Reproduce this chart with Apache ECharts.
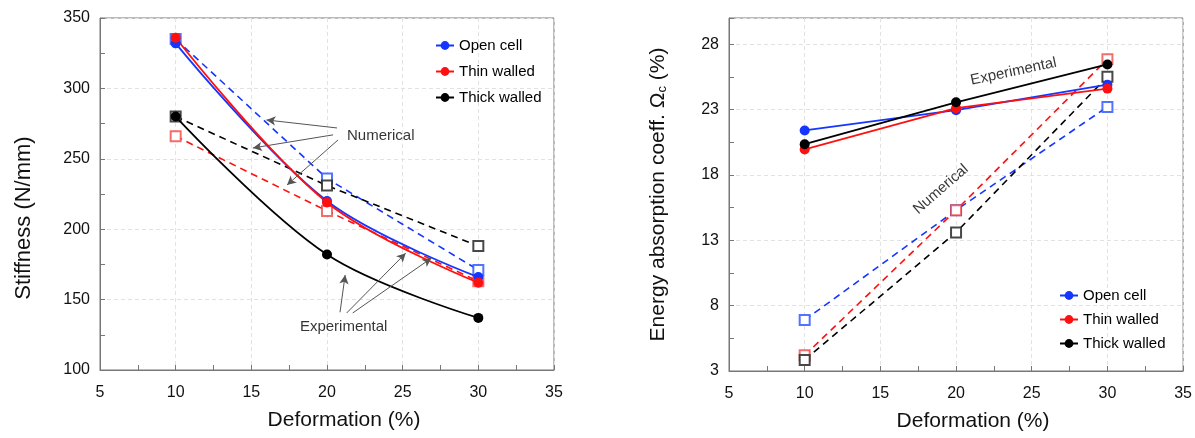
<!DOCTYPE html>
<html>
<head>
<meta charset="utf-8">
<script src="https://cdn.jsdelivr.net/npm/echarts@6/dist/echarts.min.js"></script>
<style>html,body{margin:0;padding:0;background:#fff}#c{width:1195px;height:438px}</style>
</head>
<body>
<div id="c"></div>
<script>
// ---- data ----
const deformation = [10, 20, 30];
const seriesNames = ['Open cell', 'Thin walled', 'Thick walled'];
// Stiffness (N/mm)
const stiffExpOpen = [332, 220, 166];
const stiffExpThin = [336, 219, 162];
const stiffExpThick = [280, 182, 137];
const stiffNumOpen = [335, 236, 171];
const stiffNumThin = [266, 213, 163];
const stiffNumThick = [280, 231, 188];
// Energy absorption coeff (%)
const energyExpOpen = [21.4, 22.95, 24.9];
const energyExpThin = [19.95, 23.1, 24.6];
const energyExpThick = [20.35, 23.55, 26.45];
const energyNumOpen = [6.9, 15.3, 23.2];
const energyNumThin = [4.2, 15.3, 26.85];
const energyNumThick = [3.85, 13.6, 25.5];
// axis ticks
const xTicks = {min: 5, max: 35, interval: 5};
const stiffTicks = {min: 100, max: 350, interval: 50};
const energyTicks = {min: 3, max: 30, interval: 5};
// annotations (data units)
const leftNumArrows = [[[20.66, 271.9], [16.0, 277.6]], [[20.4, 267.0], [15.1, 257.7]], [[20.73, 263.4], [17.36, 231.4]]];
const leftExpArrows = [[[20.86, 141], [21.2, 167.5]], [[21.3, 140.5], [25.2, 183]], [[21.7, 140.5], [26.9, 179.5]]];
const leftNumLabel = [23.55, 266];
const leftExpLabel = [21.1, 130.5];
const rightExpLabel = [23.8, 25.9];
const rightNumLabel = [19.0, 16.9];

const colors = ['#1436ff', '#ff1010', '#000000'];
const numColors = ['rgba(40,80,255,0.8)', 'rgba(240,60,60,0.75)', 'rgba(40,40,40,0.85)'];
const FONT = 'Liberation Sans, Arial, sans-serif';

function pairs(ys) { return deformation.map((x, i) => [x, ys[i]]); }

function expSeries(name, ys, idx, c, smooth) {
  return {
    name: name, type: 'line', xAxisIndex: idx, yAxisIndex: idx,
    data: pairs(ys), smooth: smooth, symbol: 'circle', symbolSize: 10,
    lineStyle: {color: c, width: 1.8}, itemStyle: {color: c}, z: 4
  };
}
function numSeries(name, ys, idx, c, lc) {
  return {
    name: name + ' (num)', type: 'line', xAxisIndex: idx, yAxisIndex: idx,
    data: pairs(ys), symbol: 'emptyRect', symbolSize: 10,
    lineStyle: {color: lc, width: 1.6, type: [7, 5]},
    itemStyle: {color: c, borderWidth: 1}, z: 3
  };
}
function arrowSeries(idx, arrows) {
  return {
    type: 'line', xAxisIndex: idx, yAxisIndex: idx, data: [], silent: true,
    markLine: {
      silent: true, symbol: ['none', 'arrow'], symbolSize: [7, 9],
      lineStyle: {color: '#555', width: 1, type: 'solid'},
      label: {show: false},
      data: arrows.map(a => [{coord: a[0]}, {coord: a[1]}])
    }
  };
}
function textSeries(idx, pos, text, rot) {
  return {
    type: 'scatter', xAxisIndex: idx, yAxisIndex: idx, data: [pos], symbolSize: 0, silent: true,
    label: {show: true, position: 'inside', formatter: text, rotate: rot, color: '#000', fontSize: 15, fontFamily: FONT}
  };
}

function xAxis(idx) {
  return {
    type: 'value', gridIndex: idx, min: xTicks.min, max: xTicks.max, interval: xTicks.interval,
    name: 'Deformation (%)', nameLocation: 'middle', nameGap: 40,
    nameTextStyle: {fontSize: 21, color: '#111', fontFamily: FONT, padding: [0, 0, 0, 34]},
    axisLine: {show: true, onZero: false, lineStyle: {color: '#777'}},
    axisTick: {show: true, inside: true, length: 5, lineStyle: {color: '#777'}},
    minorTick: {show: true, splitNumber: 2, length: 5, lineStyle: {color: '#777'}},
    axisLabel: {fontSize: 16, color: '#111', margin: 15, fontFamily: FONT},
    splitLine: {show: true, lineStyle: {color: '#e2e2e2', type: [4, 3]}}
  };
}
function yAxis(idx, t, name, gap, nameStyle, extraLabel) {
  return {
    type: 'value', gridIndex: idx, min: t.min, max: t.max, interval: t.interval,
    name: name, nameLocation: 'middle', nameGap: gap,
    nameTextStyle: nameStyle,
    axisLine: {show: true, onZero: false, lineStyle: {color: '#777'}},
    axisTick: {show: true, inside: true, length: 5, lineStyle: {color: '#777'}},
    minorTick: {show: true, splitNumber: 2, length: 5, lineStyle: {color: '#777'}},
    axisLabel: Object.assign({fontSize: 16, color: '#111', margin: 10, fontFamily: FONT}, extraLabel || {}),
    splitLine: {show: true, lineStyle: {color: '#e2e2e2', type: [4, 3]}}
  };
}

const chart = echarts.init(document.getElementById('c'), null, {renderer: 'canvas'});
const series = [];
const stiffExp = [stiffExpOpen, stiffExpThin, stiffExpThick];
const stiffNum = [stiffNumOpen, stiffNumThin, stiffNumThick];
const enExp = [energyExpOpen, energyExpThin, energyExpThick];
const enNum = [energyNumOpen, energyNumThin, energyNumThick];
for (let i = 0; i < 3; i++) series.push(numSeries(seriesNames[i], stiffNum[i], 0, numColors[i], colors[i]));
for (let i = 0; i < 3; i++) series.push(expSeries(seriesNames[i], stiffExp[i], 0, colors[i], 0.35));
for (let i = 0; i < 3; i++) series.push(numSeries(seriesNames[i], enNum[i], 1, numColors[i], colors[i]));
for (let i = 0; i < 3; i++) series.push(expSeries(seriesNames[i], enExp[i], 1, colors[i], false));
series.push(arrowSeries(0, leftNumArrows));
series.push(arrowSeries(0, leftExpArrows));
series.push(textSeries(0, leftNumLabel, 'Numerical', 0));
series.push(textSeries(0, leftExpLabel, 'Experimental', 0));
series.push(textSeries(1, rightExpLabel, 'Experimental', 12));
series.push(textSeries(1, rightNumLabel, 'Numerical', 41));

const legendBase = {
  orient: 'vertical', data: seriesNames, itemWidth: 18, itemHeight: 11,
  textStyle: {fontSize: 15, color: '#000', fontFamily: FONT}, padding: 0
};

chart.setOption({
  animation: false,
  backgroundColor: '#fff',
  grid: [
    {left: 100, top: 18, width: 454, height: 352, show: true, borderColor: '#777', borderWidth: 1, backgroundColor: 'transparent'},
    {left: 729, top: 18, width: 456, height: 353, show: true, borderColor: '#777', borderWidth: 1, backgroundColor: 'transparent'}
  ],
  xAxis: [xAxis(0), xAxis(1)],
  yAxis: [
    yAxis(0, stiffTicks, 'Stiffness (N/mm)', 65,
      {fontSize: 22, color: '#111', fontFamily: FONT, padding: [0, 48, 0, 0]}),
    yAxis(1, energyTicks, 'Energy absorption coeff. Ω{sub|c} (%)', 60,
      {fontSize: 21, color: '#111', fontFamily: FONT,
       rich: {sub: {fontSize: 13, verticalAlign: 'bottom', padding: [9, 0, 0, 0], fontFamily: FONT, color: '#111'}}},
      {showMaxLabel: false})
  ],
  legend: [
    Object.assign({left: 435, top: 38, itemGap: 11}, legendBase),
    Object.assign({left: 1059, top: 288, itemGap: 9}, legendBase)
  ],
  series: series
});
</script>
</body>
</html>
